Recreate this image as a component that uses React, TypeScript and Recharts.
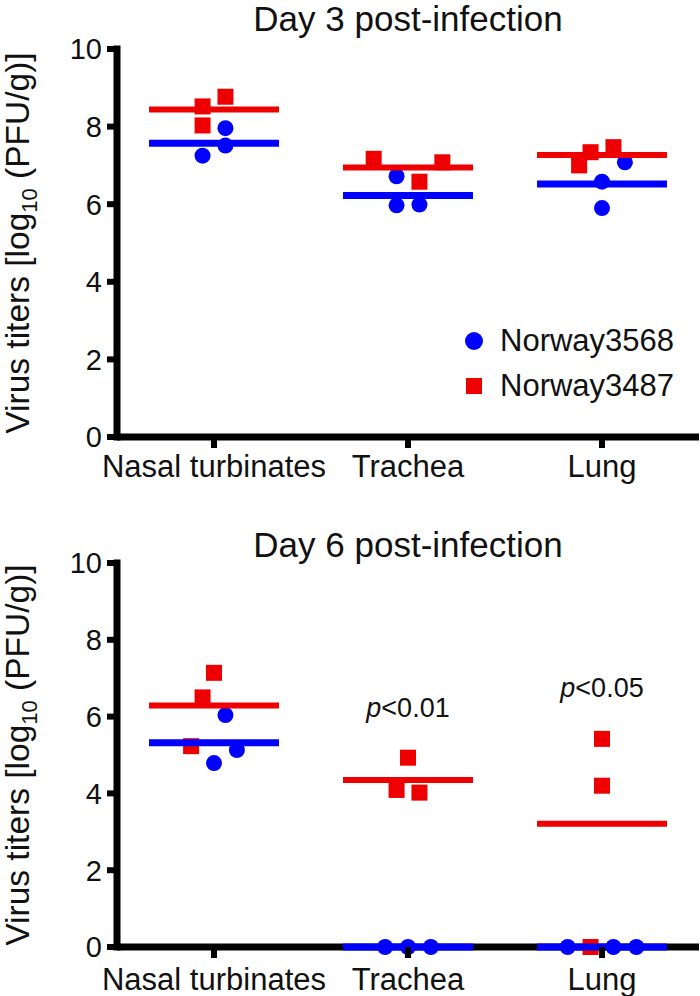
import React from 'react';
import {
  ScatterChart,
  Scatter,
  XAxis,
  YAxis,
  ReferenceLine,
  ReferenceDot,
  Legend,
  Customized,
} from 'recharts';

// ---------- data ----------
const categories = ['Nasal turbinates', 'Trachea', 'Lung'];
const yTicks = [0, 2, 4, 6, 8, 10];
const seriesNames = ['Norway3568', 'Norway3487'];

// Day 3 post-infection (log10 PFU/g), per organ, per animal
const day3Norway3568 = [
  [7.96, 7.51, 7.25],
  [6.72, 5.97, 5.99],
  [7.08, 6.58, 5.9],
];
const day3Norway3487 = [
  [8.52, 8.77, 8.03],
  [7.17, 7.08, 6.58],
  [7.34, 7.47, 7.0],
];
// horizontal spread of overlapping dots (in marker steps)
const day3Norway3568Spread = [
  [1, 1, -1],
  [-1, -1, 1],
  [2, 0, 0],
];
const day3Norway3487Spread = [
  [-1, 1, -1],
  [-3, 3, 1],
  [-1, 1, -2],
];

// Day 6 post-infection
const day6Norway3568 = [
  [6.04, 5.13, 4.79],
  [0, 0, 0],
  [0, 0, 0],
];
const day6Norway3487 = [
  [7.14, 6.5, 5.23],
  [4.93, 4.09, 4.02],
  [5.42, 4.2, 0],
];
const day6Norway3568Spread = [
  [1, 2, 0],
  [-2, 0, 2],
  [-3, 1, 3],
];
const day6Norway3487Spread = [
  [0, -1, -2],
  [0, -1, 1],
  [0, 0, -1],
];

const day6Notes = [
  { category: 2, y: 6.24, text: '<0.01' },
  { category: 3, y: 6.76, text: '<0.05' },
];

// ---------- styles ----------
const FONT = '"Liberation Sans", Arial, Helvetica, sans-serif';
const BLUE = '#0000FF';
const RED = '#EE0000';
const INK = '#111111';
const AXIS_W = 7;
const TICK_W = 6;
const SPREAD_STEP = 0.059; // category units per marker step
const MEAN_HALF = 0.335; // half width of the mean bar in category units
const X_DOMAIN: [number, number] = [0.5, 3.5];
const Y_DOMAIN: [number, number] = [0, 10];

type Pt = { x: number; y: number };

function buildPoints(values: number[][], spread: number[][]): Pt[] {
  const out: Pt[] = [];
  values.forEach((arr, ci) => {
    arr.forEach((v, i) => {
      out.push({ x: ci + 1 + spread[ci][i] * SPREAD_STEP, y: v });
    });
  });
  return out;
}

function means(values: number[][]): number[] {
  return values.map((arr) => arr.reduce((a, b) => a + b, 0) / arr.length);
}

const CircleShape = (p: any) => (
  <circle cx={p.cx} cy={p.cy} r={8} fill={BLUE} />
);
const SquareShape = (p: any) => (
  <rect x={p.cx - 8} y={p.cy - 8} width={16} height={16} fill={RED} />
);

const Y_TICK_SIZE = 10;
const Y_TICK_MARGIN = 5;
const YTick = (p: any) => {
  const { x, y, payload } = p;
  const lx = x + Y_TICK_MARGIN;
  return (
    <g>
      <line x1={lx} x2={lx + Y_TICK_SIZE + 3} y1={y} y2={y} stroke="#000" strokeWidth={TICK_W} />
      <text
        x={x}
        y={y}
        dy="0.36em"
        textAnchor="end"
        fontFamily={FONT}
        fontSize={29}
        fill={INK}
      >
        {payload.value}
      </text>
    </g>
  );
};

const X_TICK_SIZE = 11;
const makeXTick = (tickMargin: number) => (p: any) => {
  const { x, y, payload } = p;
  const top = y - tickMargin - X_TICK_SIZE;
  return (
    <g>
      <line x1={x} x2={x} y1={top} y2={top + X_TICK_SIZE} stroke="#000" strokeWidth={TICK_W} />
      <text
        x={x}
        y={y}
        dy="0.71em"
        textAnchor="middle"
        fontFamily={FONT}
        fontSize={31}
        fill={INK}
      >
        {categories[Math.round(payload.value) - 1]}
      </text>
    </g>
  );
};

const YLabel = (props: any) => {
  const vb = props.viewBox || {};
  const cy = (vb.y || 0) + (vb.height || 0) / 2;
  const x = 29;
  return (
    <text
      x={x}
      y={cy}
      transform={`rotate(-90, ${x}, ${cy})`}
      textAnchor="middle"
      fontFamily={FONT}
      fontSize={33.5}
      fill={INK}
    >
      Virus titers [log
      <tspan fontSize={22} dy={8}>
        10
      </tspan>
      <tspan dy={-8}> (PFU/g)]</tspan>
    </text>
  );
};

const LegendContent = () => (
  <div style={{ fontFamily: FONT, fontSize: 31, color: INK, lineHeight: '45px' }}>
    {seriesNames.map((name, i) => (
      <div key={name} style={{ display: 'flex', alignItems: 'center', height: 45 }}>
        <svg width={24} height={24} style={{ marginRight: 12 }}>
          {i === 0 ? (
            <circle cx={10} cy={12} r={9} fill={BLUE} />
          ) : (
            <rect x={2} y={4} width={16} height={16} fill={RED} />
          )}
        </svg>
        <span>{name}</span>
      </div>
    ))}
  </div>
);

type PanelProps = {
  title: string;
  titleBaseline: number;
  blue: number[][];
  red: number[][];
  blueSpread: number[][];
  redSpread: number[][];
  marginTop: number;
  xAxisHeight: number;
  tickMargin: number;
  showLegend?: boolean;
  notes?: { category: number; y: number; text: string }[];
};

function Panel(props: PanelProps) {
  const {
    title,
    titleBaseline,
    blue,
    red,
    blueSpread,
    redSpread,
    marginTop,
    xAxisHeight,
    tickMargin,
    showLegend,
    notes,
  } = props;
  const bluePts = buildPoints(blue, blueSpread);
  const redPts = buildPoints(red, redSpread);
  const blueMeans = means(blue);
  const redMeans = means(red);

  return (
    <ScatterChart
      width={700}
      height={498}
      margin={{ top: marginTop, right: 1, bottom: 0, left: 0 }}
    >
      <XAxis
        type="number"
        dataKey="x"
        domain={X_DOMAIN}
        ticks={[1, 2, 3]}
        interval={0}
        axisLine={false}
        tickLine={false}
        tickSize={X_TICK_SIZE}
        tickMargin={tickMargin}
        tick={makeXTick(tickMargin)}
        height={xAxisHeight}
      />
      <YAxis
        type="number"
        dataKey="y"
        domain={Y_DOMAIN}
        ticks={yTicks}
        interval={0}
        axisLine={false}
        tickLine={false}
        tickSize={Y_TICK_SIZE}
        tickMargin={Y_TICK_MARGIN}
        tick={YTick}
        width={117}
        label={{ content: YLabel }}
      />
      {/* axis lines */}
      <ReferenceLine
        segment={[
          { x: X_DOMAIN[0], y: Y_DOMAIN[0] },
          { x: X_DOMAIN[0], y: Y_DOMAIN[1] },
        ]}
        stroke="#000"
        strokeWidth={AXIS_W}
        strokeLinecap="square"
        ifOverflow="visible"
        zIndex={850}
      />
      <ReferenceLine
        segment={[
          { x: X_DOMAIN[0], y: Y_DOMAIN[0] },
          { x: X_DOMAIN[1], y: Y_DOMAIN[0] },
        ]}
        stroke="#000"
        strokeWidth={AXIS_W}
        ifOverflow="visible"
        zIndex={850}
      />
      <Scatter
        name={seriesNames[1]}
        data={redPts}
        shape={SquareShape}
        isAnimationActive={false}
        zIndex={900}
      />
      <Scatter
        name={seriesNames[0]}
        data={bluePts}
        shape={CircleShape}
        isAnimationActive={false}
        zIndex={910}
      />
      {redMeans.map((m, i) => (
        <ReferenceLine
          key={'r' + i}
          segment={[
            { x: i + 1 - MEAN_HALF, y: m },
            { x: i + 1 + MEAN_HALF, y: m },
          ]}
          stroke={RED}
          strokeWidth={6}
          ifOverflow="visible"
          zIndex={920}
        />
      ))}
      {blueMeans.map((m, i) => (
        <ReferenceLine
          key={'b' + i}
          segment={[
            { x: i + 1 - MEAN_HALF, y: m },
            { x: i + 1 + MEAN_HALF, y: m },
          ]}
          stroke={BLUE}
          strokeWidth={7}
          ifOverflow="visible"
          zIndex={930}
        />
      ))}
      {(notes || []).map((n) => (
        <ReferenceDot
          key={n.text}
          x={n.category}
          y={n.y}
          r={0}
          fill="none"
          stroke="none"
          label={{
            content: (lp: any) => {
              const vb = lp.viewBox || {};
              const cx = (vb.x || 0) + (vb.width || 0) / 2;
              const cy = (vb.y || 0) + (vb.height || 0) / 2;
              return (
                <text
                  x={cx}
                  y={cy + 10}
                  textAnchor="middle"
                  fontFamily={FONT}
                  fontSize={27}
                  fill={INK}
                >
                  <tspan fontStyle="italic">p</tspan>
                  {n.text}
                </text>
              );
            },
          }}
        />
      ))}
      <Customized
        component={() => (
          <text
            x={408}
            y={titleBaseline}
            textAnchor="middle"
            fontFamily={FONT}
            fontSize={35}
            fill={INK}
          >
            {title}
          </text>
        )}
      />
      {showLegend && (
        <Legend
          layout="vertical"
          align="center"
          verticalAlign="middle"
          content={LegendContent}
          wrapperStyle={{ left: 464, top: 318, width: 236, bottom: 'auto', right: 'auto' }}
        />
      )}
    </ScatterChart>
  );
}

export default function App() {
  return (
    <div
      style={{
        position: 'absolute',
        left: 0,
        top: 0,
        width: 700,
        height: 996,
        background: '#fff',
      }}
    >
      <div style={{ position: 'absolute', left: 0, top: 0 }}>
        <Panel
          title="Day 3 post-infection"
          titleBaseline={31}
          blue={day3Norway3568}
          red={day3Norway3487}
          blueSpread={day3Norway3568Spread}
          redSpread={day3Norway3487Spread}
          marginTop={49}
          xAxisHeight={61}
          tickMargin={7}
          showLegend
        />
      </div>
      <div style={{ position: 'absolute', left: 0, top: 498 }}>
        <Panel
          title="Day 6 post-infection"
          titleBaseline={59}
          blue={day6Norway3568}
          red={day6Norway3487}
          blueSpread={day6Norway3568Spread}
          redSpread={day6Norway3487Spread}
          marginTop={65}
          xAxisHeight={49}
          tickMargin={10}
          notes={day6Notes}
        />
      </div>
    </div>
  );
}
